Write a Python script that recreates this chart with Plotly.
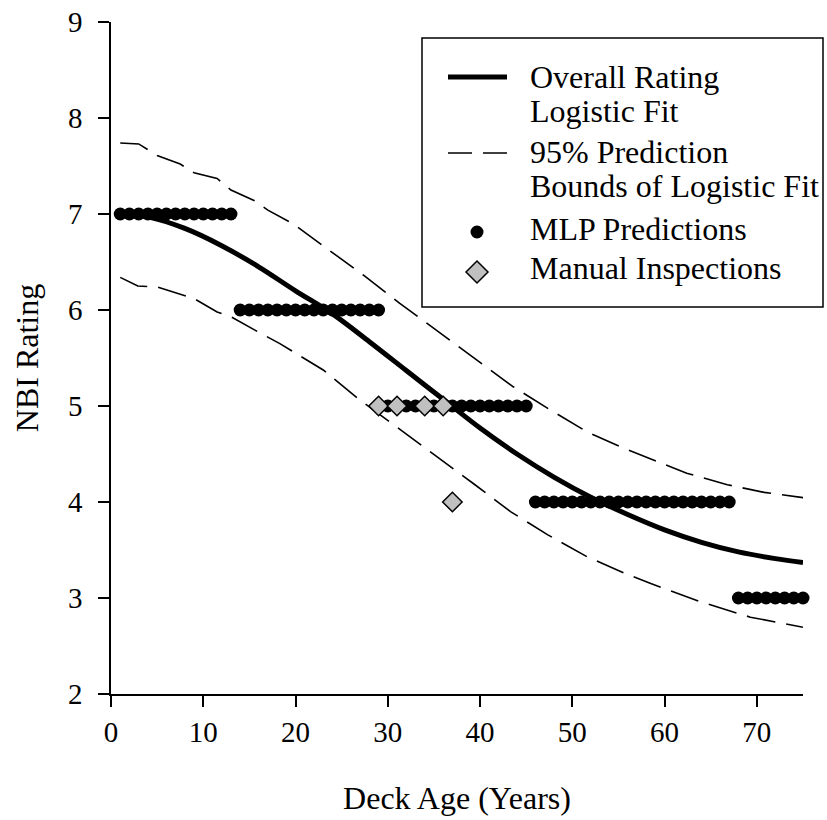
import plotly.graph_objects as go

# ---- data ----
mlp_age = list(range(1, 14)) + list(range(14, 30)) + list(range(30, 46)) + list(range(46, 68)) + list(range(68, 76))
mlp_rating = [7] * 13 + [6] * 16 + [5] * 16 + [4] * 22 + [3] * 8

manual_age = [29, 31, 34, 36, 37]
manual_rating = [5, 5, 5, 5, 4]

fit_age = [1, 4, 8, 12, 16, 20, 24, 28, 32, 36, 40, 44, 48, 52, 56, 60, 64, 68, 72, 75]
fit_rating = [7.00, 6.97, 6.85, 6.67, 6.45, 6.20, 5.96, 5.67, 5.37, 5.07, 4.77, 4.50, 4.26,
              4.05, 3.87, 3.71, 3.58, 3.48, 3.41, 3.37]

upper_age = [1, 3, 5, 7.5, 9, 11.5, 13, 15.5, 17, 19.7, 23.4, 27.4, 31.3, 35.3, 39.7, 43.6,
             47.6, 51.6, 55.6, 58.5, 62.4, 66.8, 70.8, 75]
upper_rating = [7.74, 7.73, 7.61, 7.52, 7.43, 7.37, 7.25, 7.14, 7.04, 6.90, 6.64, 6.36, 6.07,
                5.79, 5.48, 5.20, 4.96, 4.73, 4.56, 4.45, 4.30, 4.18, 4.10, 4.045]

lower_age = [1, 2.9, 5, 7.5, 9, 11.5, 13, 15.6, 18.3, 23, 27, 31, 34.4, 39.3, 43.3, 47.3,
             51.6, 55.6, 58.5, 63.9, 69.3, 75]
lower_rating = [6.34, 6.25, 6.24, 6.16, 6.12, 5.98, 5.93, 5.79, 5.65, 5.375, 5.06, 4.78, 4.54,
                4.19, 3.90, 3.66, 3.43, 3.26, 3.15, 2.96, 2.80, 2.695]

x_ticks = [0, 10, 20, 30, 40, 50, 60, 70]
y_ticks = [2, 3, 4, 5, 6, 7, 8, 9]

legend_lines = ["Overall Rating", "Logistic Fit", "95% Prediction",
                "Bounds of Logistic Fit", "MLP Predictions", "Manual Inspections"]

FONT = "Liberation Serif"
DASH = "29px,11px"
FIT_NAME = "Overall Rating Logistic Fit"
BOUND_NAME = "95% Prediction Bounds of Logistic Fit"

# plot-area geometry (pixels) used to place the hand-drawn legend box
ML, MT, PW, PH = 111, 22, 692, 672


def px(x):
    return (x - ML) / PW


def py(y):
    return (MT + PH - y) / PH


fig = go.Figure()

fig.add_trace(go.Scatter(
    x=fit_age, y=fit_rating, mode="lines", name=FIT_NAME,
    line=dict(color="black", width=5, shape="spline"),
))
fig.add_trace(go.Scatter(
    x=upper_age, y=upper_rating, mode="lines", name=BOUND_NAME,
    line=dict(color="black", width=1.6, dash=DASH),
))
fig.add_trace(go.Scatter(
    x=lower_age, y=lower_rating, mode="lines", name=BOUND_NAME,
    line=dict(color="black", width=1.6, dash=DASH),
))
fig.add_trace(go.Scatter(
    x=mlp_age, y=mlp_rating, mode="markers", name="MLP Predictions",
    marker=dict(symbol="circle", size=13, color="black"), cliponaxis=False,
))
fig.add_trace(go.Scatter(
    x=manual_age, y=manual_rating, mode="markers", name="Manual Inspections",
    marker=dict(symbol="diamond", size=15, color="#c0c0c0", line=dict(color="black", width=1.5)),
    cliponaxis=False,
))

# ---- legend (drawn by hand to match the reference spacing) ----
shapes = [
    dict(type="rect", xref="paper", yref="paper", x0=px(422), x1=px(823), y0=py(307), y1=py(38),
         line=dict(color="black", width=1.5), fillcolor="white", layer="above"),
    dict(type="line", xref="paper", yref="paper", x0=px(448), x1=px(507), y0=py(77), y1=py(77),
         line=dict(color="black", width=5)),
    dict(type="line", xref="paper", yref="paper", x0=px(448), x1=px(507), y0=py(153), y1=py(153),
         line=dict(color="black", width=1.6, dash="24px,11px")),
    dict(type="circle", xref="paper", yref="paper", x0=px(470.5), x1=px(483.5), y0=py(238.5),
         y1=py(225.5), line=dict(color="black", width=0), fillcolor="black"),
    dict(type="path", xref="paper", yref="paper",
         path=(f"M {px(466)},{py(272)} L {px(477)},{py(261)} L {px(488)},{py(272)} "
               f"L {px(477)},{py(283)} Z"),
         line=dict(color="black", width=1.5), fillcolor="#c0c0c0"),
]

text_centres = [77, 111, 152, 186, 229, 267.5]
annotations = [
    dict(text=t, xref="paper", yref="paper", x=px(528), y=py(c), xanchor="left", yanchor="middle",
         showarrow=False, font=dict(family=FONT, size=32, color="black"))
    for t, c in zip(legend_lines, text_centres)
]

axis_common = dict(
    showgrid=False, zeroline=False, showline=True, linecolor="black", linewidth=1.5,
    ticks="outside", ticklen=11, tickwidth=1.5, tickcolor="black",
    tickfont=dict(family=FONT, size=29, color="black"), automargin=False,
)

fig.update_layout(
    width=827, height=820,
    margin=dict(l=ML, r=827 - ML - PW, t=MT, b=820 - MT - PH),
    paper_bgcolor="white", plot_bgcolor="white",
    font=dict(family=FONT, color="black"),
    showlegend=False,
    shapes=shapes,
    annotations=annotations,
    xaxis=dict(
        range=[0, 75], tickvals=x_ticks, ticktext=[str(v) for v in x_ticks],
        title=dict(text="Deck Age (Years)", font=dict(family=FONT, size=32), standoff=40),
        **axis_common,
    ),
    yaxis=dict(
        range=[2, 9], tickvals=y_ticks, ticktext=[str(v) for v in y_ticks],
        ticklabelstandoff=10,
        title=dict(text="NBI Rating", font=dict(family=FONT, size=32), standoff=20),
        **axis_common,
    ),
)

fig.write_html("out.html")
